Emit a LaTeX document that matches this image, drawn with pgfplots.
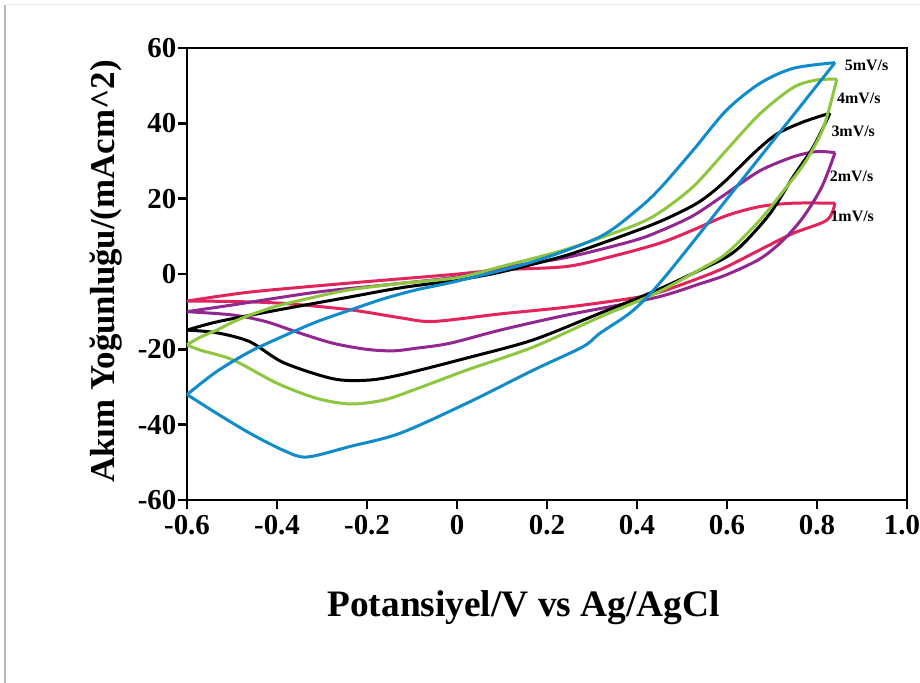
\documentclass[border=0pt]{standalone}
\usepackage{pgfplots}
\pgfplotsset{compat=1.18}
\usepackage{fontspec}
\setmainfont{Liberation Serif}
\definecolor{cvblue}{RGB}{16,140,204}
\definecolor{cvgreen}{RGB}{141,198,63}
\definecolor{cvpurple}{RGB}{146,39,143}
\definecolor{cvred}{RGB}{226,35,92}
\begin{document}
\begin{tikzpicture}
\useasboundingbox (0,0) rectangle (920bp,683bp);
\fill[white] (0,0) rectangle (920bp,683bp);
\draw[gray!55,line width=1.2bp] (5bp,0) -- (5bp,678bp);
\draw[gray!15,line width=1bp] (5bp,678bp) -- (920bp,678bp);
\begin{axis}[
  at={(187bp,183bp)}, anchor=south west,
  scale only axis, width=720bp, height=452bp,
  xmin=-0.6, xmax=1.0, ymin=-60, ymax=60,
  axis line style={line width=2.6bp, black},
  tick pos=left, tick align=outside,
  major tick length=9bp,
  every tick/.style={line width=2.4bp, black},
  xtick={-0.6,-0.4,-0.2,0,0.2,0.4,0.6,0.8,1.0},
  xticklabels={-0.6,-0.4,-0.2,0,0.2,0.4,0.6,0.8,{\hbox{1.0\kern10bp}}},
  ytick={-60,-40,-20,0,20,40,60},
  yticklabels={-60,-40,-20,0,20,40,60},
  /pgf/number format/assume math mode=true,
  xticklabel style={font=\bfseries\fontsize{29}{29}\selectfont, inner sep=2pt, yshift=-4bp},
  yticklabel style={font=\bfseries\fontsize{29}{29}\selectfont, inner sep=1.5pt},
  xlabel={Potansiyel/V vs Ag/AgCl},
  ylabel={Akım Yoğunluğu/(mAcm\textasciicircum2)},
  xlabel style={at={(axis description cs:0.4674,-0.2582)}, anchor=base, font=\bfseries\fontsize{37.5}{37.5}\selectfont},
  ylabel style={at={(axis description cs:-0.1,0.5055)}, anchor=base, font=\bfseries\fontsize{35}{35}\selectfont},
  every axis plot/.append style={line width=3bp, smooth, tension=0.5, no markers},
  clip=false,
]
% 1 mV/s
\addplot[cvred] coordinates {(-0.6,-7.2) (-0.46,-4.8) (-0.238,-2.4) (-0.016,-0.2) (0.096,1.1) (0.244,2.0) (0.355,5.0) (0.451,8.2) (0.525,11.7) (0.599,15.5) (0.673,17.9) (0.747,18.8) (0.84,18.8)};
\addplot[cvred] coordinates {(0.84,18.8) (0.822,14.3) (0.747,10.8) (0.673,6.4) (0.599,1.9) (0.54,-1.0) (0.451,-4.8) (0.391,-6.4) (0.244,-8.8) (0.096,-10.6) (-0.053,-12.6) (-0.127,-11.6) (-0.238,-9.5) (-0.387,-7.8) (-0.498,-7.3) (-0.6,-7.2)};
% 2 mV/s
\addplot[cvpurple] coordinates {(-0.6,-10) (-0.498,-8.2) (-0.311,-4.8) (-0.15,-2.8) (0,-0.8) (0.096,1.6) (0.244,4.4) (0.391,8.8) (0.451,11.4) (0.525,15.5) (0.599,21.4) (0.673,27.4) (0.747,31.1) (0.799,32.5) (0.84,32.2)};
\addplot[cvpurple] coordinates {(0.84,32.2) (0.811,23.2) (0.77,15.2) (0.725,9.0) (0.673,4.0) (0.599,-0.2) (0.54,-2.6) (0.44,-6.3) (0.244,-10.9) (0.096,-14.9) (-0.016,-18.4) (-0.09,-19.7) (-0.142,-20.4) (-0.201,-20.0) (-0.275,-18.4) (-0.349,-15.7) (-0.423,-12.7) (-0.497,-10.9) (-0.6,-10)};
% 3 mV/s
\addplot[black] coordinates {(-0.6,-14.9) (-0.533,-12.7) (-0.4,-9.6) (-0.238,-6.1) (-0.127,-3.7) (0,-1.6) (0.096,0.5) (0.244,5.0) (0.392,11.2) (0.46,14.4) (0.525,18.2) (0.56,21.0) (0.599,25.0) (0.659,32.0) (0.71,37.1) (0.77,40.4) (0.829,42.7)};
\addplot[black] coordinates {(0.829,42.7) (0.792,33.8) (0.747,25.8) (0.696,16.1) (0.636,8.0) (0.6,4.6) (0.55,1.6) (0.44,-4.5) (0.318,-10.4) (0.169,-17.5) (0.022,-22.3) (-0.127,-26.8) (-0.2,-28.2) (-0.276,-27.8) (-0.386,-23.5) (-0.46,-18) (-0.534,-15.6) (-0.6,-14.9)};
% 4 mV/s
\addplot[cvgreen] coordinates {(-0.6,-18.8) (-0.571,-16.8) (-0.534,-14.9) (-0.497,-12.7) (-0.46,-10.9) (-0.4,-8.5) (-0.312,-6.0) (-0.238,-4.2) (-0.127,-2.5) (0,-1.0) (0.096,1.9) (0.244,6.6) (0.392,12.8) (0.451,16.4) (0.525,23.2) (0.599,32.9) (0.673,42.5) (0.747,49.5) (0.799,51.5) (0.844,51.7)};
\addplot[cvgreen] coordinates {(0.844,51.7) (0.815,39.1) (0.777,30.3) (0.733,23.2) (0.673,14.3) (0.599,5.5) (0.54,1.2) (0.44,-5.2) (0.318,-11.4) (0.169,-19.4) (0.022,-25.5) (-0.09,-30.5) (-0.164,-33.5) (-0.238,-34.5) (-0.312,-33) (-0.4,-29) (-0.498,-22.8) (-0.571,-20.2) (-0.6,-18.8)};
% 5 mV/s
\addplot[cvblue] coordinates {(-0.6,-32) (-0.534,-25.9) (-0.46,-20.6) (-0.386,-16.5) (-0.312,-12.7) (-0.238,-9.6) (-0.164,-6.6) (-0.09,-4.2) (0,-1.9) (0.17,3.3) (0.318,9.9) (0.40,17.0) (0.451,22.7) (0.525,32.9) (0.599,43.5) (0.673,50.6) (0.747,54.6) (0.84,56.1)};
\addplot[cvblue] coordinates {(0.84,56.1) (0.65,27.5) (0.466,-0.2) (0.392,-9.6) (0.318,-15.7) (0.28,-19.3) (0.17,-25.5) (0.022,-34.3) (-0.127,-42.3) (-0.238,-45.8) (-0.334,-48.6) (-0.386,-46.8) (-0.46,-42.3) (-0.534,-37) (-0.6,-32)};
\begin{scope}[every node/.style={anchor=west, inner sep=0pt, font=\bfseries\fontsize{16}{16}\selectfont}]
\node at (axis cs:0.8616,55.5) {5mV/s};
\node at (axis cs:0.8444,46.6) {4mV/s};
\node at (axis cs:0.8318,37.8) {3mV/s};
\node at (axis cs:0.8282,26.0) {2mV/s};
\node at (axis cs:0.8296,15.2) {1mV/s};
\end{scope}
\end{axis}
\end{tikzpicture}
\end{document}
